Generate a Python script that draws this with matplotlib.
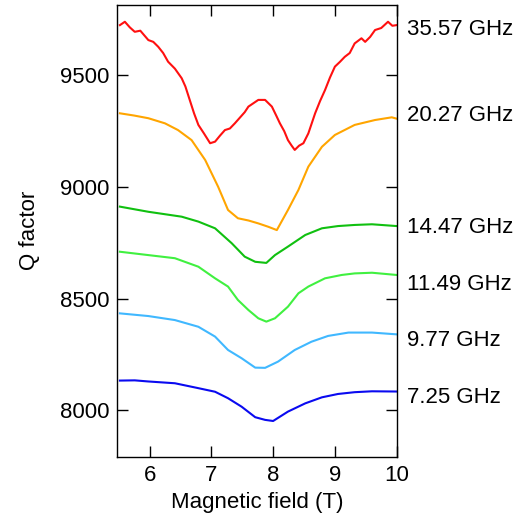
import matplotlib.pyplot as plt

plt.rcParams['font.family'] = ['Liberation Sans', 'DejaVu Sans']

# values
freq_labels = ['35.57 GHz', '20.27 GHz', '14.47 GHz', '11.49 GHz', '9.77 GHz', '7.25 GHz']
label_q = [9718, 9333, 8830, 8576, 8322, 8069]
colors = ['#ff1010', '#ffa500', '#10c010', '#40f040', '#40b8ff', '#0a0af0']

field_red = [5.52, 5.60, 5.68, 5.76, 5.85, 5.98, 6.06, 6.14, 6.22, 6.30, 6.41, 6.52, 6.58,
             6.65, 6.72, 6.79, 6.88, 6.98, 7.06, 7.14, 7.22, 7.30, 7.38, 7.46, 7.54, 7.60,
             7.68, 7.76, 7.87, 7.98, 8.05, 8.11, 8.18, 8.24, 8.30, 8.35, 8.42, 8.49, 8.57,
             8.68, 8.76, 8.84, 8.92, 9.00, 9.08, 9.16, 9.24, 9.32, 9.43, 9.49, 9.57, 9.65,
             9.75, 9.86, 9.93, 10.0]
q_red = [9725, 9740, 9715, 9695, 9700, 9658, 9650, 9628, 9600, 9561, 9530, 9487, 9450,
         9390, 9330, 9278, 9240, 9196, 9203, 9230, 9255, 9262, 9285, 9310, 9335, 9360,
         9375, 9390, 9390, 9360, 9320, 9285, 9250, 9210, 9185, 9166, 9185, 9196, 9240,
         9330, 9385, 9434, 9490, 9539, 9560, 9583, 9600, 9643, 9666, 9650, 9672, 9703,
         9712, 9740, 9722, 9725]

field_orange = [5.52, 5.75, 5.98, 6.25, 6.46, 6.68, 6.90, 7.11, 7.27, 7.43, 7.60, 7.76,
                7.92, 8.06, 8.24, 8.41, 8.57, 8.79, 9.00, 9.32, 9.65, 9.92, 10.0]
q_orange = [9330, 9320, 9308, 9285, 9255, 9210, 9121, 9001, 8897, 8860, 8850, 8837,
            8822, 8807, 8897, 8987, 9091, 9180, 9233, 9278, 9300, 9312, 9306]

field_green = [5.52, 5.98, 6.52, 6.79, 7.06, 7.33, 7.54, 7.71, 7.89, 8.03, 8.24, 8.52,
               8.79, 9.05, 9.32, 9.60, 10.0]
q_green = [8912, 8889, 8867, 8845, 8815, 8748, 8688, 8665, 8660, 8695, 8733, 8785,
           8815, 8825, 8830, 8833, 8825]

field_lgreen = [5.52, 5.98, 6.41, 6.79, 7.06, 7.27, 7.43, 7.60, 7.76, 7.89, 8.03, 8.24,
                8.41, 8.57, 8.84, 9.11, 9.32, 9.60, 10.0]
q_lgreen = [8710, 8695, 8681, 8643, 8591, 8554, 8494, 8449, 8412, 8397, 8412, 8464,
            8524, 8554, 8591, 8606, 8613, 8616, 8606]

field_lblue = [5.52, 5.98, 6.41, 6.79, 7.06, 7.27, 7.49, 7.71, 7.87, 8.08, 8.35, 8.62,
               8.89, 9.22, 9.60, 10.0]
q_lblue = [8434, 8422, 8404, 8374, 8330, 8270, 8233, 8191, 8190, 8218, 8270, 8307,
           8333, 8348, 8348, 8340]

field_blue = [5.52, 5.76, 5.98, 6.41, 6.79, 7.06, 7.27, 7.49, 7.71, 7.87, 8.00, 8.24,
              8.52, 8.79, 9.05, 9.32, 9.60, 10.0]
q_blue = [8133, 8134, 8129, 8121, 8099, 8083, 8054, 8016, 7969, 7957, 7952, 7994,
          8031, 8058, 8073, 8081, 8085, 8084]

fields = [field_red, field_orange, field_green, field_lgreen, field_lblue, field_blue]
qs = [q_red, q_orange, q_green, q_lgreen, q_lblue, q_blue]

fig = plt.figure(figsize=(5.22, 5.17), dpi=100)
ax = fig.add_axes([0.225, 0.1166, 0.5355, 0.8737])

for f, q, c in zip(fields, qs, colors):
    ax.plot(f, q, color=c, lw=1.5)

for lab, yq in zip(freq_labels, label_q):
    ax.text(1.035, yq, lab, transform=ax.get_yaxis_transform(), ha='left',
            va='center_baseline', fontsize=16)

ax.set_xlim(5.48, 10.005)
ax.set_ylim(7792, 9815)
ax.set_xticks([6, 7, 8, 9, 10])
ax.set_yticks([8000, 8500, 9000, 9500])
ax.tick_params(direction='in', top=True, right=True, length=8, width=1,
               labelsize=16, pad=6)
for s in ax.spines.values():
    s.set_linewidth(1)
ax.set_xlabel('Magnetic field (T)', fontsize=16, labelpad=4)
ax.set_ylabel('Q factor', fontsize=16, labelpad=14)

fig.savefig('out.png', dpi=100)
